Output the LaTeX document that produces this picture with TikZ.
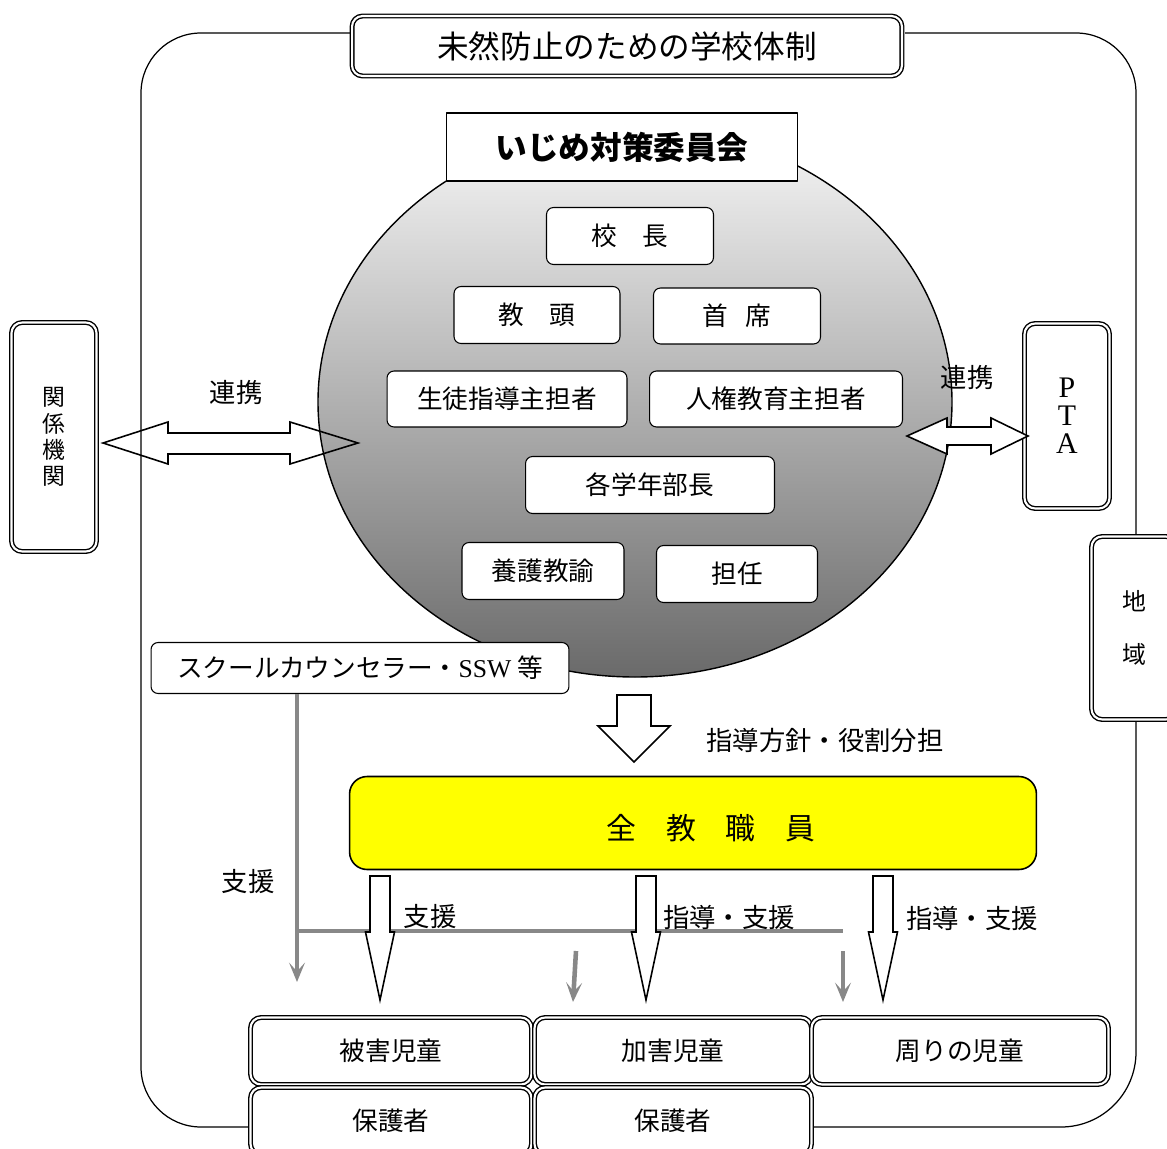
\documentclass[tikz,border=0pt]{standalone}
\usepackage{fontspec}
\setmainfont{Noto Sans CJK JP}
\newfontfamily\serifla{Liberation Serif}
\usepackage{xcolor}
\usetikzlibrary{arrows.meta}

\definecolor{shadetop}{HTML}{F7F7F7}
\definecolor{shadebottom}{HTML}{6A6A6A}
\definecolor{linegray}{HTML}{888888}
\definecolor{staffyellow}{HTML}{FFFF00}

\tikzset{
  frame/.style={line width=0.7pt},
  member/.style={draw, fill=white, rounded corners=4pt, line width=0.6pt, inner sep=0pt,
    font=\fontsize{14.6}{16}\selectfont},
  dbox/.style={draw, fill=white, double, double distance=1.2pt, line width=0.8pt,
    rounded corners=6pt, inner sep=0pt},
  blockarrow/.style={draw, line width=0.9pt, line join=miter},
  grayline/.style={draw=linegray, line width=2.6pt},
  grayarrow/.style={grayline, -{Stealth[length=11pt, width=9pt, inset=5pt]}},
  tag/.style={inner sep=0pt, font=\fontsize{15}{18}\selectfont},
}

\begin{document}
\begin{tikzpicture}[x=0.02cm, y=-0.02cm, line join=round]
\useasboundingbox (0,0) rectangle (1167,1149);

% outer frame
\draw[frame, rounded corners=1.2cm] (352,33) -- (141,33) -- (141,1127) -- (250,1127);
\draw[frame, rounded corners=1.2cm] (905,33) -- (1136,33) -- (1136,537);
\draw[frame, rounded corners=1.5cm] (1136,720) -- (1136,1127) -- (813,1127);

% committee circle
\shade[top color=shadetop, bottom color=shadebottom] (635,402) ellipse [x radius=317, y radius=275];
\draw[line width=0.8pt] (635,402) ellipse [x radius=317, y radius=275];

% title and committee
\node[dbox, minimum width=11cm, minimum height=1.2cm, font=\fontsize{18}{20}\selectfont] (title) at (627,46) {未然防止のための学校体制};
\node[draw, fill=white, line width=0.9pt, minimum width=7.02cm, minimum height=1.36cm,
  font=\bfseries\fontsize{18}{20}\selectfont] (iinkai) at (622,147) {いじめ対策委員会};

% members
\node[member, minimum width=3.34cm, minimum height=1.14cm] (kocho) at (630,236) {校　長};
\node[member, minimum width=3.32cm, minimum height=1.14cm] (kyoto) at (537,315) {教　頭};
\node[member, minimum width=3.34cm, minimum height=1.12cm] (shuseki) at (737,316) {首\hspace{.7em}席};
\node[member, minimum width=4.8cm, minimum height=1.12cm] (seito) at (507,399) {生徒指導主担者};
\node[member, minimum width=5.06cm, minimum height=1.12cm] (jinken) at (776,399) {人権教育主担者};
\node[member, minimum width=4.98cm, minimum height=1.14cm] (gakunen) at (650,485) {各学年部長};
\node[member, minimum width=3.24cm, minimum height=1.14cm] (yogo) at (543,571) {養護教諭};
\node[member, minimum width=3.22cm, minimum height=1.14cm] (tannin) at (737,574) {担任};

% outside partners
\node[dbox, minimum width=1.7cm, minimum height=4.58cm, align=center,
  font=\fontsize{13}{15}\selectfont] (kankei) at (54,437) {関\\係\\機\\関};
\node[dbox, minimum width=1.7cm, minimum height=3.7cm, align=center,
  font=\serifla\fontsize{17}{16}\selectfont] (pta) at (1067,416) {P\\T\\A};
\node[dbox, minimum width=1.7cm, minimum height=3.66cm, align=center,
  font=\fontsize{13.6}{30.6}\selectfont] (chiiki) at (1134,628) {地\\域};

% cooperation arrows
\draw[blockarrow] (103,443) -- (168,422) -- (168,433) -- (290,433) -- (290,422) -- (358,443)
  -- (290,464) -- (290,454) -- (168,454) -- (168,464) -- cycle;
\node[tag] (renkei left) at (236,393) {連携};
\draw[blockarrow, fill=white] (907,436) -- (947,418) -- (947,427) -- (991,427) -- (991,418) -- (1028,436)
  -- (991,454) -- (991,445) -- (947,445) -- (947,454) -- cycle;
\node[tag] (renkei right) at (967,378) {連携};

% counsellor
\node[member, minimum width=8.36cm, minimum height=1.02cm, font=\fontsize{14.6}{16}\selectfont]
  (sc) at (360,668) {スクールカウンセラー・{\serifla SSW} 等};

% policy arrow
\draw[blockarrow, fill=white] (617,695) -- (651,695) -- (651,726) -- (670,726) -- (634,762)
  -- (598,726) -- (617,726) -- cycle;
\node[tag] (hoshin) at (825,741) {指導方針・役割分担};

% all staff
\node[draw, fill=staffyellow, line width=0.9pt, rounded corners=0.35cm, minimum width=13.74cm,
  minimum height=1.86cm] (zen) at (693,823) {};
\node[inner sep=0pt, font=\fontsize{17}{20}\selectfont] (zen text) at (711,828) {全　教　職　員};

% support lines
\coordinate (sc drop) at (297,694);
\coordinate (sc end) at (297,982);
\coordinate (branch) at (297,931);
\coordinate (branch end) at (843,931);
\draw[grayarrow] (sc drop) -- (sc end);
\draw[grayline] (branch) -- (branch end);
\coordinate (mid top) at (576,951);
\coordinate (mid end) at (573,1002);
\coordinate (right top) at (843,951);
\coordinate (right end) at (843,1002);
\draw[grayarrow] (mid top) -- (mid end);
\draw[grayarrow] (right top) -- (right end);
\node[tag] (shien left) at (248,882) {支援};

% guidance arrows
\foreach \ax in {380,646,883}
  \draw[blockarrow, fill=white] (\ax-10,876) -- (\ax+10,876) -- (\ax+10,932) -- (\ax+14.5,932)
    -- (\ax,1000) -- (\ax-14.5,932) -- (\ax-10,932) -- cycle;
\node[tag] (shien a) at (430,917) {支援};
\node[tag] (shido b) at (729,917) {指導・支援};
\node[tag] (shido c) at (972,918) {指導・支援};

% children and guardians
\node[dbox, minimum width=5.62cm, minimum height=1.34cm, font=\fontsize{14.6}{16}\selectfont] (higai) at (391,1051) {被害児童};
\node[dbox, minimum width=5.54cm, minimum height=1.34cm, font=\fontsize{14.6}{16}\selectfont] (kagai) at (673,1051) {加害児童};
\node[dbox, minimum width=5.94cm, minimum height=1.34cm, font=\fontsize{14.6}{16}\selectfont] (mawari) at (960,1051) {周りの児童};
\node[dbox, minimum width=5.62cm, minimum height=1.34cm, font=\fontsize{14.6}{16}\selectfont] (hogo a) at (391,1121) {保護者};
\node[dbox, minimum width=5.54cm, minimum height=1.34cm, font=\fontsize{14.6}{16}\selectfont] (hogo b) at (673,1121) {保護者};

\end{tikzpicture}
\end{document}
